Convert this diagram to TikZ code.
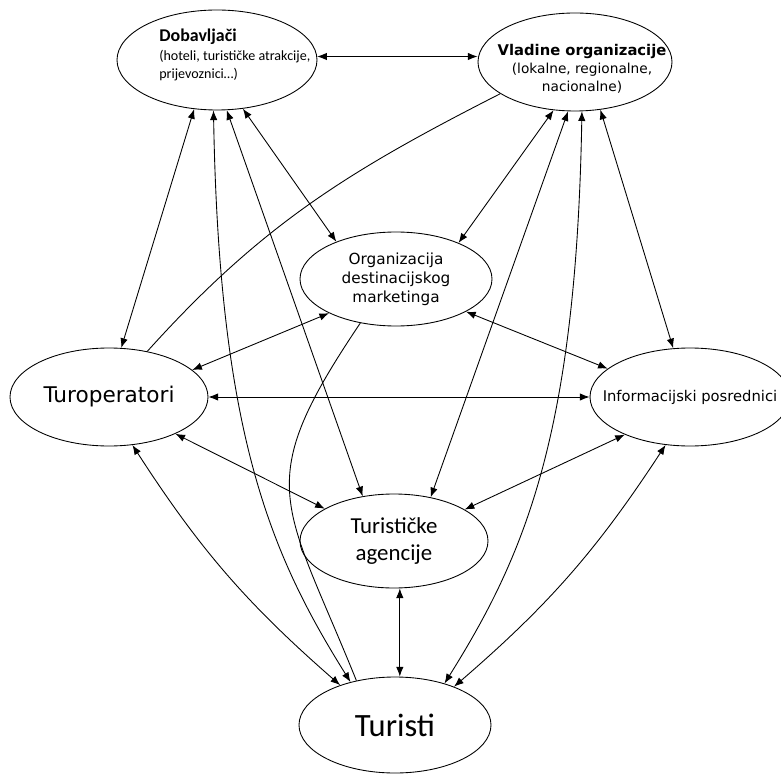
\documentclass[tikz,border=0pt]{standalone}
\usepackage{fontspec}
\newfontfamily\dejavu{DejaVu Sans}
\newfontfamily\carlito{Carlito}
\usetikzlibrary{shapes.geometric, arrows.meta}
\tikzset{
  hub/.style={draw, ellipse, inner sep=0pt, line width=0.5pt},
  lbl/.style={inner sep=0pt, align=center},
  link/.style={{Latex[length=5.5pt,width=4.2pt]}-{Latex[length=5.5pt,width=4.2pt]}, line width=0.5pt},
  bare/.style={line width=0.5pt},
}

\begin{document}
\begin{tikzpicture}
            \useasboundingbox (0,0) rectangle (15.62,-15.48);

            \node[hub, minimum width=4cm, minimum height=2cm] (dob) at (4.34,-1.2) {};
            \node[hub, minimum width=3.88cm, minimum height=1.96cm] (vlad) at (11.5,-1.24) {};
            \node[hub, minimum width=3.84cm, minimum height=1.88cm] (odm) at (7.92,-5.58) {};
            \node[hub, minimum width=3.96cm, minimum height=1.96cm] (turo) at (2.18,-7.94) {};
            \node[hub, minimum width=4cm, minimum height=1.96cm] (inf) at (13.8,-7.94) {};
            \node[hub, minimum width=3.76cm, minimum height=1.88cm] (ture) at (7.88,-10.82) {};
            \node[hub, minimum width=3.84cm, minimum height=1.92cm] (tur) at (7.9,-14.5) {};

            \node[lbl, anchor=west, align=left, font=\carlito\fontsize{8}{10.2}\selectfont] (dob-t) at (3.18,-1.1)
                {{\fontsize{10.2}{12}\selectfont\bfseries Dobavljači}\\[1pt](hoteli, turističke atrakcije,\\prijevoznici…)};
            \node[lbl, font=\dejavu\fontsize{7.8}{10.2}\selectfont] (vlad-t) at (11.64,-1.37)
                {{\fontsize{8.4}{10}\selectfont\bfseries Vladine organizacije}\\(lokalne, regionalne,\\nacionalne)};
            \node[lbl, font=\dejavu\fontsize{8.7}{10.8}\selectfont] (odm-t) at (odm) {Organizacija\\destinacijskog\\marketinga};
            \node[lbl, font=\dejavu\fontsize{12.3}{14}\selectfont] (turo-t) at (turo) {Turoperatori};
            \node[lbl, font=\dejavu\fontsize{8.4}{10}\selectfont] (inf-t) at (inf) {Informacijski posrednici};
            \node[lbl, font=\carlito\fontsize{13}{15.7}\selectfont] (ture-t) at (ture) {Turističke\\agencije};
            \node[lbl, font=\carlito\fontsize{18.5}{20}\selectfont] (tur-t) at (tur) {Turisti};

            \draw[link] (dob.2) -- (dob.2 -| vlad.west);
            \draw[link] (dob.245) -- (turo.76);
            \draw[link] (dob.266) .. controls +(271:6.5) and +(122:3) .. (tur.136);
            \draw[link] (dob.281) -- (ture.125);
            \draw[link] (dob.298) -- (odm.148);
            \draw[link] (vlad.246) -- (odm.30);
            \draw[link] (vlad.262) -- (ture.50);
            \draw[link] (vlad.278) .. controls +(269:6.5) and +(58:3) .. (tur.40);
            \draw[link] (vlad.298) -- (inf.109);
            \draw[bare] (vlad.203) to[out=207,in=48] (turo.50);
            \draw[bare] (odm.231) to[out=236,in=112,looseness=1.4] (tur.131);
            \draw[link] (turo.18) -- (odm.207);
            \draw[link] (turo.east) -- (inf.west);
            \draw[link] (turo.331) -- (ture.155);
            \draw[link] (turo.296) to[bend right=8] (tur.144);
            \draw[link] (odm.335) -- (inf.161);
            \draw[link] (inf.210) -- (ture.24);
            \draw[link] (inf.243) to[bend left=8] (tur.33);
            \draw[link] (ture.277) -- (ture.277 |- tur.north);
        \end{tikzpicture}
\end{document}
